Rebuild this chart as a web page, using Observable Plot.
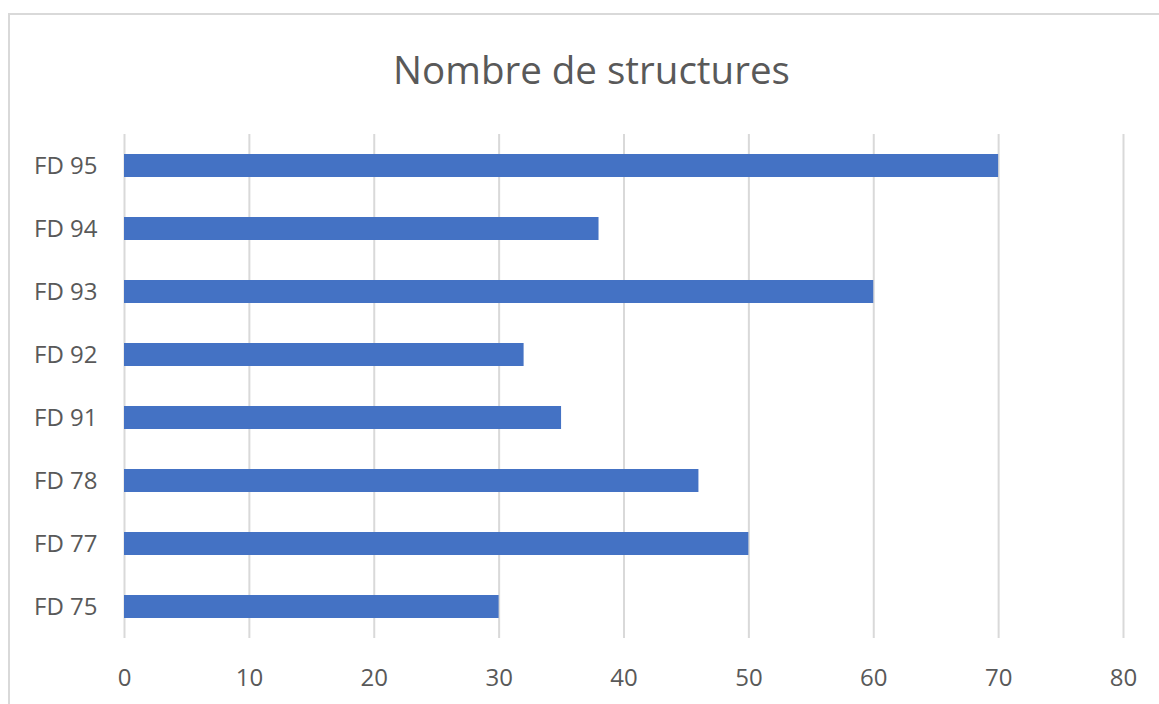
<!DOCTYPE html>
<html>
<head>
<meta charset="utf-8">
<script src="https://cdn.jsdelivr.net/npm/d3@7"></script>
<script src="https://cdn.jsdelivr.net/npm/@observablehq/plot@0.6"></script>
<style>
  html, body { margin: 0; padding: 0; background: #fff; overflow: hidden; width: 1159px; height: 704px; }
  #frame { position: absolute; left: 8px; top: 13px; width: 1200px; height: 760px; border: 2px solid #d9d9d9; box-sizing: border-box; }
  #title { position: absolute; left: 0; top: 44px; width: 1183px; text-align: center; font-family: "Open Sans", sans-serif; font-size: 38.5px; color: #595959; line-height: 50px; }
  #chart { position: absolute; left: 0; top: 100px; }
</style>
</head>
<body>
<div id="frame"></div>
<div id="title">Nombre de structures</div>
<div id="chart"></div>
<script>
const categories = ["FD 95", "FD 94", "FD 93", "FD 92", "FD 91", "FD 78", "FD 77", "FD 75"];
const values = [70, 38, 60, 32, 35, 46, 50, 30];
const xTicks = [0, 10, 20, 30, 40, 50, 60, 70, 80];

const data = categories.map((c, i) => ({category: c, value: values[i]}));

const chart = Plot.plot({
  width: 1159,
  height: 604,
  marginTop: 34,
  marginBottom: 66,
  marginLeft: 124,
  marginRight: 36,
  style: {fontFamily: "'Open Sans', sans-serif", fontSize: "24px", color: "#595959", background: "transparent"},
  x: {domain: [0, 80], ticks: xTicks, label: null},
  y: {domain: categories, paddingInner: 0.635, paddingOuter: 0.3175, label: null},
  marks: [
    Plot.gridX(xTicks, {stroke: "#d9d9d9", strokeOpacity: 1, strokeWidth: 2}),
    Plot.barX(data, {x: "value", y: "category", fill: "#4472c4"}),
    Plot.axisX({ticks: xTicks, tickSize: 0, tickPadding: 30, fill: "#595959", label: null}),
    Plot.axisY({tickSize: 0, tickPadding: 27, fill: "#595959", label: null})
  ]
});
document.getElementById("chart").appendChild(chart);
</script>
</body>
</html>
